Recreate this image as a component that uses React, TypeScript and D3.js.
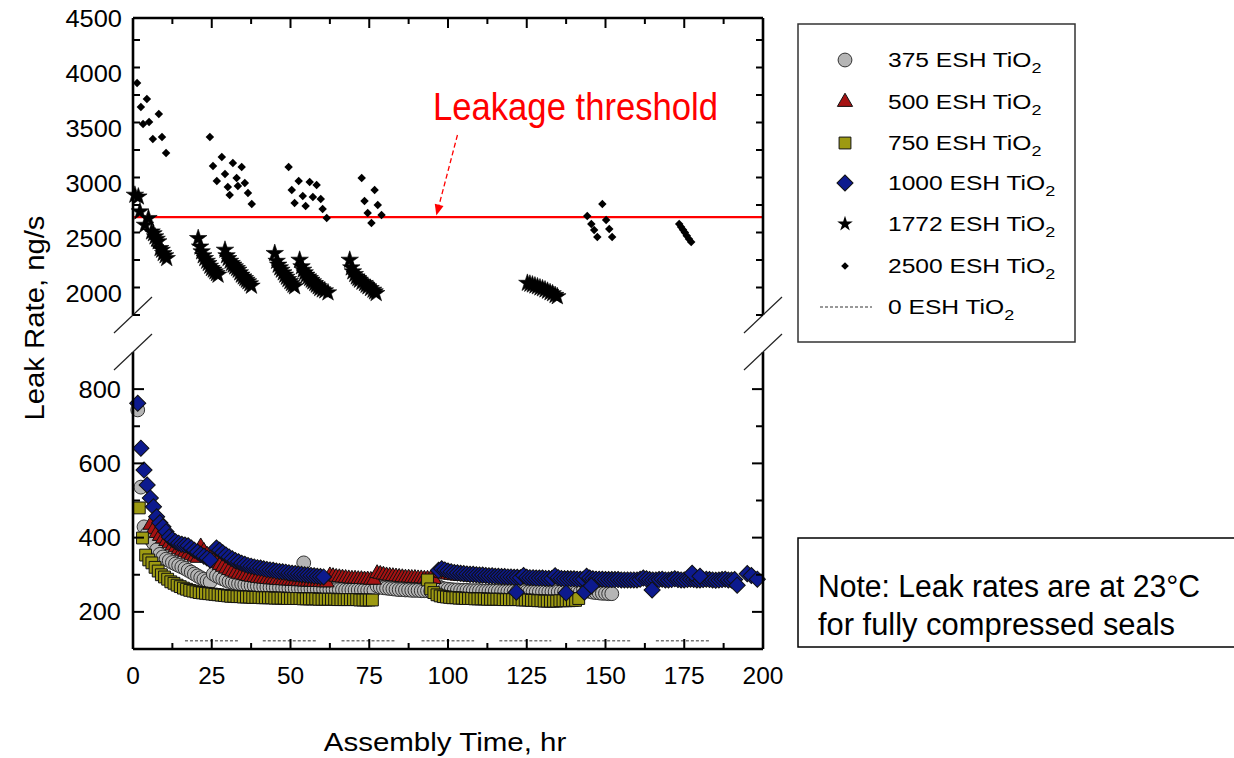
import React from 'react';
import * as d3 from 'd3';

// ---------------- DATA ----------------
const X_TICKS = [0, 25, 50, 75, 100, 125, 150, 175, 200];
const TOP_TICKS = [2000, 2500, 3000, 3500, 4000, 4500];
const LOW_TICKS = [200, 400, 600, 800];
const THRESHOLD = 2690;

// 1772 ESH TiO2 (stars) [time, leak]
const star1 = [[0.6, 2891], [1.7, 2875], [2.2, 2739], [3.8, 2618], [4.9, 2679], [5.9, 2557], [6.5, 2540], [7.0, 2512], [7.5, 2490], [8.0, 2467], [8.6, 2406], [9.1, 2390], [9.6, 2361], [10.2, 2340], [10.7, 2315]];
const star2 = [[20.7, 2497], [21.3, 2420], [21.8, 2376], [22.3, 2340], [22.8, 2315], [23.4, 2290], [23.9, 2270], [24.4, 2245], [24.9, 2224], [25.5, 2210], [26.0, 2194], [26.5, 2178], [27.0, 2164]];
const star3 = [[29.2, 2391], [29.7, 2340], [30.2, 2315], [30.8, 2290], [31.3, 2270], [31.8, 2255], [32.3, 2239], [32.9, 2224], [33.4, 2209], [33.9, 2185], [34.4, 2164], [35.0, 2148], [35.5, 2133], [36.0, 2118], [36.5, 2103], [37.1, 2085], [37.6, 2064]];
const star4 = [[45.0, 2361], [45.6, 2290], [46.1, 2255], [46.6, 2230], [47.1, 2209], [47.7, 2185], [48.2, 2164], [48.7, 2145], [49.2, 2124], [49.8, 2105], [50.3, 2088], [50.8, 2072], [51.3, 2058]];
const star5 = [[52.9, 2300], [53.5, 2240], [54.0, 2209], [54.5, 2185], [55.0, 2164], [55.6, 2148], [56.1, 2133], [56.6, 2118], [57.1, 2103], [57.7, 2088], [58.2, 2073], [58.8, 2058], [59.3, 2042], [60.1, 2030], [60.9, 2021], [61.9, 2003]];
const star6 = [[68.8, 2300], [69.3, 2230], [69.8, 2194], [70.4, 2170], [70.9, 2148], [71.4, 2133], [71.9, 2118], [72.7, 2100], [73.5, 2088], [74.0, 2072], [74.6, 2058], [75.4, 2042], [76.2, 2027], [76.7, 2012], [77.2, 1997]];
const star7 = [[125.2, 2090], [126.0, 2082], [126.8, 2075], [127.6, 2066], [128.4, 2058], [129.2, 2048], [130.0, 2040], [130.8, 2030], [131.6, 2018], [132.4, 2005], [133.2, 1995], [134.0, 1980], [134.7, 1968]];

// 2500 ESH TiO2 (small diamonds)
const dot1 = [[1.3, 3909], [2.5, 3691], [3.2, 3536], [4.4, 3764], [5.1, 3555], [6.3, 3400], [8.2, 3627], [9.2, 3418], [10.5, 3273]];
const dot2 = [[24.4, 3418], [25.4, 3155], [26.6, 3018], [28.2, 3236], [29.2, 3082], [30.1, 2964], [30.7, 2891], [31.7, 3182], [32.9, 3045], [33.3, 2973], [34.5, 3145], [35.5, 3000], [36.5, 2909], [37.7, 2809]];
const dot3 = [[49.4, 3145], [50.4, 2936], [51.3, 2818], [52.6, 3018], [53.9, 2882], [54.8, 2791], [56.1, 3009], [57.1, 2873], [58.3, 2982], [59.6, 2855], [60.2, 2764], [61.5, 2682]];
const dot4 = [[72.6, 3045], [73.5, 2836], [74.5, 2727], [75.7, 2636], [76.7, 2936], [77.7, 2800], [78.9, 2709]];
const dot5 = [[144.2, 2700], [145.5, 2627], [146.4, 2573], [147.4, 2509], [149.0, 2809], [150.2, 2664], [151.2, 2582], [152.1, 2509]];
const dot6 = [[173.4, 2627], [174.0, 2600], [174.6, 2575], [175.2, 2550], [175.8, 2520], [176.5, 2490], [177.2, 2464]];

// 375 ESH TiO2 (circles): hourly runs [start time, values]
const circleRun1Start = 1.5;
const circleRun1 = [744, 536, 429, 410, 396, 385, 367, 355, 348, 342, 338, 333, 329, 325, 321, 317, 312, 307, 302, 297, 292, 288, 284, 281];
const circleRun2Start = 25.5;
const circleRun2 = [302, 297, 293, 289, 285, 282, 280, 278, 276, 275, 273, 272, 271, 270, 269, 268, 268, 267, 266, 266, 265, 265, 264, 264, 264, 263, 263, 263, 262, 262, 262, 262, 261, 261, 261, 261, 260, 260, 260, 260, 260, 260, 259, 259, 259, 259, 259, 259, 259, 258, 258, 258];
const circleRun3Start = 77.5;
const circleRun3 = [270, 267, 265, 264, 263, 262, 261, 260, 260, 259, 259, 258, 258, 258, 257, 257, 257, 256, 256];
const circleRun4Start = 97;
const circleRun4 = [268, 264, 262, 261, 260, 259, 259, 258, 258, 258, 257, 257, 257, 257, 256, 256, 256, 256, 256, 256, 255, 255, 255, 255, 255, 255, 255, 255, 254, 254, 254, 254, 254, 254, 254, 254, 254, 254, 254, 254, 254, 253, 253, 253, 253, 253, 262, 258, 255, 253, 252, 251, 250, 250, 249, 249];
const circleExtra = [[54.2, 332]];

// 500 ESH TiO2 (triangles)
const triRun1Start = 5.5;
const triRun1 = [434, 422, 412, 404, 397, 390, 384, 378, 373, 368, 364, 360, 356, 352, 348, 345];
const triRun2Start = 21.5;
const triRun2 = [376, 364, 354, 345, 338, 332, 326, 321, 316, 312, 308, 305, 302, 300, 298, 296, 294, 293, 291, 290, 289, 288, 287, 287, 286, 285, 285, 284, 284, 283, 283, 282, 282, 281, 281, 281, 280, 280, 280, 279, 279];
const triRun3Start = 62.5;
const triRun3 = [298, 296, 294, 293, 292, 291, 290, 289, 289, 288, 288, 287, 287, 286, 286];
const triRun4Start = 77.5;
const triRun4 = [304, 302, 300, 298, 297, 296, 295, 294, 293, 292, 292, 291, 291, 290, 290, 289, 289, 289, 288];
const triRun5Start = 97;
const triRun5 = [306, 304, 302, 300, 299, 298, 297, 296, 296, 295, 295, 294, 294, 293, 293, 293, 292, 292, 292, 291, 291, 291, 291, 290, 290, 290, 290, 290, 289, 289, 289, 289, 289, 289, 288, 288, 288, 288, 288, 288, 288, 288, 287, 287, 287, 287, 287, 287, 287, 287, 287, 286, 286, 286];

// 750 ESH TiO2 (squares)
const sqRun1Start = 2;
const sqRun1 = [480, 399, 353, 340, 332, 320, 310, 300, 294, 288, 281, 277, 272, 268, 264, 261, 258, 256, 254, 252, 251, 250, 249, 248, 247, 246, 245, 244, 243, 242, 242, 241, 241, 240, 240, 240, 239, 239, 239, 238, 238, 238, 238, 237, 237, 237, 237, 236, 236, 236, 236, 236, 235, 235, 235, 235, 235, 234, 234, 234, 234, 234, 234, 233, 233, 233, 233, 233, 233, 233, 232, 232, 232, 232, 232];
const sqRun2Start = 93.5;
const sqRun2 = [286, 262, 252, 246, 243, 241, 240, 239, 238, 238, 237, 237, 236, 236, 236, 235, 235, 235, 235, 234, 234, 234, 234, 234, 233, 233, 233, 233, 233, 233, 232, 232, 232, 231, 231, 230, 230, 229, 229, 229, 229, 229, 230, 230, 230, 230, 231, 231, 236];

// 1000 ESH TiO2 (diamonds)
const diaRun1Start = 1.5;
const diaRun1 = [762, 641, 582, 542, 507, 483, 456, 440, 429, 416, 402, 395, 389, 385, 382, 380, 378, 372, 366, 361, 355, 350, 345, 340];
const diaRun2Start = 26.5;
const diaRun2 = [372, 366, 359, 353, 348, 343, 338, 335, 331, 328, 325, 323, 321, 319, 318, 316, 314, 313, 312, 310, 309, 308, 307, 305, 304, 303, 302, 301, 300, 299, 298, 297, 296, 295, 294];
const diaRun3Start = 97;
const diaRun3 = [312, 316, 313, 310, 308, 306, 305, 304, 303, 302, 301, 301, 300, 299, 299, 298, 297, 297, 296, 296, 295, 295, 294, 294, 293, 293, 292, 298, 293, 292, 292, 291, 291, 291, 290, 290, 290, 297, 292, 290, 289, 289, 289, 289, 288, 288, 288, 296, 291, 289, 288, 288, 288, 287, 287, 287, 287, 287, 286, 286, 286, 286, 286, 286, 288, 291, 289, 287, 286, 286, 287, 288, 286, 286, 287, 289, 287, 286, 286, 287, 288, 287, 286, 286, 287, 288, 287, 286, 285, 286, 287, 288, 286, 286, 287];
const diaExtra = [[121.7, 253], [137.5, 251], [143.3, 253], [145.5, 270], [164.8, 259], [177.5, 304], [180, 296], [191.8, 272], [195, 303], [196.3, 298], [198.2, 288]];

// 0 ESH TiO2 (dashed segments) [start, end] at level
const zeroLevel = 122;
const zeroSegments = [[16.5, 33.3], [41.2, 58.3], [66.2, 83], [91.6, 108.3], [116.3, 132.8], [141, 158], [166, 183]];

const LEGEND_LABELS = ['375', '500', '750', '1000', '1772', '2500', '0'];

// ---------------- HELPERS ----------------
const run = (start: number, vals: number[]) => vals.map((v, i) => [start + i, v]);

const FONT = 'Liberation Sans, Arial, Helvetica, sans-serif';
const NARROW = 'Liberation Sans Narrow, Liberation Sans, Arial, sans-serif';

function SText({ x, y, size, sx = 1, anchor = 'start', children, fill = '#000' }: any) {
  const t = `translate(${x},${y}) scale(${sx},1)`;
  return (
    <text transform={t} fontSize={size} fontFamily={FONT} textAnchor={anchor} fill={fill}>
      {children}
    </text>
  );
}

export default function App() {
  const x = d3.scaleLinear().domain([0, 200]).range([133, 763]);
  const yTop = d3.scaleLinear().domain([1800, 4500]).range([315, 18]);
  const yLow = d3.scaleLinear().domain([100, 900]).range([649, 352]);

  const pCircle = d3.symbol(d3.symbolCircle, 150)()!;
  const pTri = d3.symbol(d3.symbolTriangle, 95)()!;
  const pSq = d3.symbol(d3.symbolSquare, 140)()!;
  const pDia = d3.symbol(d3.symbolSquare, 130)()!;
  const pStar = d3.symbol(d3.symbolStar, 95)()!;
  const pDot = d3.symbol(d3.symbolSquare, 36)()!;

  const circles = [...run(circleRun1Start, circleRun1), ...run(circleRun2Start, circleRun2), ...circleExtra, ...run(circleRun3Start, circleRun3), ...run(circleRun4Start, circleRun4)];
  const tris = [...run(triRun1Start, triRun1), ...run(triRun2Start, triRun2), ...run(triRun3Start, triRun3), ...run(triRun4Start, triRun4), ...run(triRun5Start, triRun5)];
  const squares = [...run(sqRun1Start, sqRun1), ...run(sqRun2Start, sqRun2)];
  const dias = [...run(diaRun1Start, diaRun1), ...run(diaRun2Start, diaRun2), ...run(diaRun3Start, diaRun3), ...diaExtra];
  const stars = [star1, star2, star3, star4, star5, star6, star7].flat();
  const dots = [dot1, dot2, dot3, dot4, dot5, dot6].flat();

  const C_GRAY = '#b5b5b5';
  const C_RED = '#a51212';
  const C_OLIVE = '#9d9a12';
  const C_BLUE = '#0d1a8e';

  const xMinor = d3.range(0, 200.01, 12.5);
  const topMinor = d3.range(1800, 4500.01, 250);
  const lowMinor = d3.range(200, 900, 100);

  const L = 133, R = 763, T = 18, B = 649;
  const topEnd = yTop(1800), lowStart = yLow(900);

  const slash = (cx: number, cy: number, k: string) => (
    <line key={k} x1={cx - 19} y1={cy + 18} x2={cx + 19} y2={cy - 18} stroke="#222" strokeWidth={1.2} />
  );

  // legend
  const lgX = 845, lgTx = 888;
  const lgRows = [60, 102, 143, 183, 224, 266, 307];

  // arrow
  const ax1 = x(103), ay1 = yTop(3436), ax2 = x(96.3), ay2 = yTop(2705);
  const ang = Math.atan2(ay2 - ay1, ax2 - ax1);
  const ah = 11, aw = 4.5;
  const arrowHead = [
    [ax2, ay2],
    [ax2 - ah * Math.cos(ang) + aw * Math.sin(ang), ay2 - ah * Math.sin(ang) - aw * Math.cos(ang)],
    [ax2 - ah * Math.cos(ang) - aw * Math.sin(ang), ay2 - ah * Math.sin(ang) + aw * Math.cos(ang)],
  ].map((p) => p.join(',')).join(' ');

  return (
    <svg width={1234} height={758} style={{ position: 'absolute', left: 0, top: 0, background: '#fff' }}>
      <rect x={0} y={0} width={1234} height={758} fill="#fff" />

      {/* threshold */}
      <line x1={L} x2={R} y1={yTop(THRESHOLD)} y2={yTop(THRESHOLD)} stroke="#ff0000" strokeWidth={2.2} />

      {/* top panel markers */}
      {dots.map((d, i) => (
        <path key={'d' + i} d={pDot} transform={`translate(${x(d[0])},${yTop(d[1])}) rotate(45)`} fill="#000" />
      ))}
      {stars.map((d, i) => (
        <path key={'s' + i} d={pStar} transform={`translate(${x(d[0])},${yTop(d[1])})`} fill="#000" stroke="#000" strokeWidth={0.6} />
      ))}

      {/* lower panel */}
      {zeroSegments.map((s, i) => (
        <line key={'z' + i} x1={x(s[0])} x2={x(s[1])} y1={yLow(zeroLevel)} y2={yLow(zeroLevel)} stroke="#333" strokeWidth={1} strokeDasharray="3,2" />
      ))}
      {circles.map((d, i) => (
        <path key={'c' + i} d={pCircle} transform={`translate(${x(d[0])},${yLow(d[1])})`} fill={C_GRAY} stroke="#333" strokeWidth={1} />
      ))}
      {tris.map((d, i) => (
        <path key={'t' + i} d={pTri} transform={`translate(${x(d[0])},${yLow(d[1])})`} fill={C_RED} stroke="#111" strokeWidth={1} />
      ))}
      {squares.map((d, i) => (
        <path key={'q' + i} d={pSq} transform={`translate(${x(d[0])},${yLow(d[1])})`} fill={C_OLIVE} stroke="#111" strokeWidth={1} />
      ))}
      {dias.map((d, i) => (
        <path key={'b' + i} d={pDia} transform={`translate(${x(d[0])},${yLow(d[1])}) rotate(45)`} fill={C_BLUE} stroke="#111" strokeWidth={1} />
      ))}

      {/* frame */}
      <g stroke="#000" strokeWidth={2.6} fill="none">
        <line x1={L} x2={R} y1={T} y2={T} />
        <line x1={L} x2={R} y1={B} y2={B} />
        <line x1={L} x2={L} y1={T} y2={topEnd} />
        <line x1={R} x2={R} y1={T} y2={topEnd} />
        <line x1={L} x2={L} y1={lowStart} y2={B} />
        <line x1={R} x2={R} y1={lowStart} y2={B} />
      </g>
      {slash(L, topEnd, 'sl1')}
      {slash(L, lowStart, 'sl2')}
      {slash(R, topEnd, 'sl3')}
      {slash(R, lowStart, 'sl4')}

      {/* ticks */}
      <g stroke="#000" strokeWidth={2}>
        {xMinor.map((t, i) => {
          const major = t % 25 === 0;
          const len = major ? 10 : 6;
          return (
            <g key={'xt' + i}>
              <line x1={x(t)} x2={x(t)} y1={B} y2={B - len} />
              <line x1={x(t)} x2={x(t)} y1={T} y2={T + len} />
            </g>
          );
        })}
        {topMinor.map((v, i) => {
          const major = v % 500 === 0;
          const len = major ? 10 : 7;
          return (
            <g key={'yt' + i}>
              <line x1={L} x2={L + len} y1={yTop(v)} y2={yTop(v)} />
              <line x1={R} x2={R - len} y1={yTop(v)} y2={yTop(v)} />
            </g>
          );
        })}
        {lowMinor.map((v, i) => {
          const major = v % 200 === 0;
          const len = major ? 11 : 7;
          return (
            <g key={'yl' + i}>
              <line x1={L} x2={L + len} y1={yLow(v)} y2={yLow(v)} />
              <line x1={R} x2={R - len} y1={yLow(v)} y2={yLow(v)} />
            </g>
          );
        })}
      </g>

      {/* tick labels */}
      {X_TICKS.map((t) => (
        <SText key={'xl' + t} x={x(t)} y={684} size={24} sx={1.02} anchor="middle">{t}</SText>
      ))}
      {TOP_TICKS.map((v) => (
        <SText key={'tl' + v} x={122} y={yTop(v) + 8.5} size={24} sx={1.06} anchor="end">{v}</SText>
      ))}
      {LOW_TICKS.map((v) => (
        <SText key={'ll' + v} x={121} y={yLow(v) + 8.5} size={24} sx={1.06} anchor="end">{v}</SText>
      ))}

      {/* axis titles */}
      <SText x={445} y={751} size={25} sx={1.18} anchor="middle">Assembly Time, hr</SText>
      <text transform={`translate(44,318) rotate(-90) scale(1.22,1.15)`} fontSize={24} fontFamily={FONT} textAnchor="middle">Leak Rate, ng/s</text>

      {/* annotation */}
      <text x={433} y={120} fontSize={38} fontFamily={NARROW} fill="#ff0000" textLength={285} lengthAdjust="spacingAndGlyphs">Leakage threshold</text>
      <line x1={ax1} y1={ay1} x2={ax2 - 8 * Math.cos(ang)} y2={ay2 - 8 * Math.sin(ang)} stroke="#ff0000" strokeWidth={1.3} strokeDasharray="5,3" />
      <polygon points={arrowHead} fill="#ff0000" />

      {/* legend */}
      <rect x={798} y={24} width={277} height={318} fill="#fff" stroke="#333" strokeWidth={1.5} />
      <path d={d3.symbol(d3.symbolCircle, 150)()!} transform={`translate(${lgX},${lgRows[0]})`} fill={C_GRAY} stroke="#333" strokeWidth={1} />
      <path d={d3.symbol(d3.symbolTriangle, 100)()!} transform={`translate(${lgX},${lgRows[1]})`} fill={C_RED} stroke="#111" strokeWidth={1} />
      <path d={d3.symbol(d3.symbolSquare, 140)()!} transform={`translate(${lgX},${lgRows[2]})`} fill={C_OLIVE} stroke="#111" strokeWidth={1} />
      <path d={d3.symbol(d3.symbolSquare, 130)()!} transform={`translate(${lgX},${lgRows[3]}) rotate(45)`} fill={C_BLUE} stroke="#111" strokeWidth={1} />
      <path d={d3.symbol(d3.symbolStar, 75)()!} transform={`translate(${lgX},${lgRows[4]})`} fill="#000" />
      <path d={d3.symbol(d3.symbolSquare, 30)()!} transform={`translate(${lgX},${lgRows[5]}) rotate(45)`} fill="#000" />
      <line x1={820} x2={872} y1={lgRows[6]} y2={lgRows[6]} stroke="#333" strokeWidth={1} strokeDasharray="3,2" />
      {LEGEND_LABELS.map((lab, i) => (
        <text key={'lg' + i} transform={`translate(${lgTx},${lgRows[i] + 7}) scale(1.2,1)`} fontSize={20.5} fontFamily={FONT}>
          {lab} ESH TiO<tspan fontSize={15} dy={6}>2</tspan>
        </text>
      ))}

      {/* note */}
      <rect x={798} y={538} width={480} height={109} fill="#fff" stroke="#000" strokeWidth={1.5} />
      <text x={818} y={597} fontSize={31} fontFamily={NARROW} textLength={382} lengthAdjust="spacingAndGlyphs">Note: Leak rates are at 23°C</text>
      <text x={818} y={635} fontSize={31} fontFamily={NARROW} textLength={357} lengthAdjust="spacingAndGlyphs">for fully compressed seals</text>
    </svg>
  );
}
